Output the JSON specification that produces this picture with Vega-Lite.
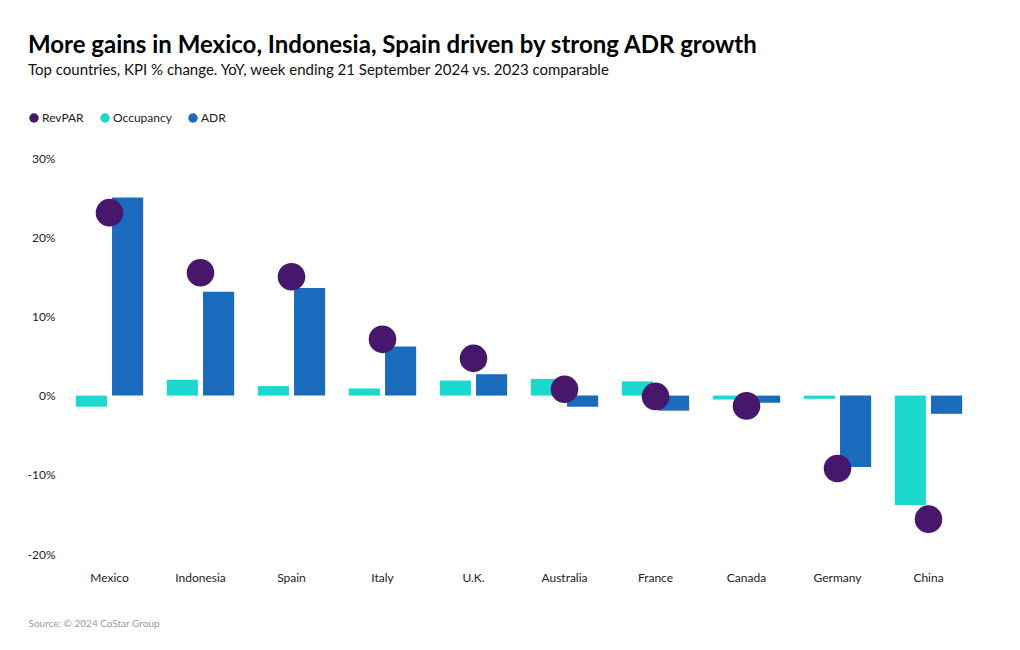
{
  "$schema": "https://vega.github.io/schema/vega-lite/v6.json",
  "width": 910,
  "height": 396,
  "autosize": {"type": "none"},
  "padding": {"left": 64, "top": 158, "right": 46, "bottom": 96},
  "background": "white",
  "config": {
    "view": {"stroke": null},
    "font": "Lato"
  },
  "title": {
    "text": "More gains in Mexico, Indonesia, Spain driven by strong ADR growth",
    "subtitle": "Top countries, KPI % change. YoY, week ending 21 September 2024 vs. 2023 comparable",
    "anchor": "start",
    "frame": "group",
    "dx": -36,
    "fontSize": 24,
    "fontWeight": "bold",
    "color": "#000000",
    "subtitleFontSize": 15,
    "subtitleColor": "#111111",
    "subtitlePadding": 5,
    "offset": 34
  },
  "data": {
    "values": [
      {"country": "Mexico", "metric": "Occupancy", "value": -1.4},
      {"country": "Mexico", "metric": "ADR", "value": 25.0},
      {"country": "Mexico", "metric": "RevPAR", "value": 23.1},
      {"country": "Indonesia", "metric": "Occupancy", "value": 2.0},
      {"country": "Indonesia", "metric": "ADR", "value": 13.1},
      {"country": "Indonesia", "metric": "RevPAR", "value": 15.5},
      {"country": "Spain", "metric": "Occupancy", "value": 1.2},
      {"country": "Spain", "metric": "ADR", "value": 13.6},
      {"country": "Spain", "metric": "RevPAR", "value": 15.0},
      {"country": "Italy", "metric": "Occupancy", "value": 0.9},
      {"country": "Italy", "metric": "ADR", "value": 6.2},
      {"country": "Italy", "metric": "RevPAR", "value": 7.1},
      {"country": "U.K.", "metric": "Occupancy", "value": 1.9},
      {"country": "U.K.", "metric": "ADR", "value": 2.7},
      {"country": "U.K.", "metric": "RevPAR", "value": 4.7},
      {"country": "Australia", "metric": "Occupancy", "value": 2.1},
      {"country": "Australia", "metric": "ADR", "value": -1.4},
      {"country": "Australia", "metric": "RevPAR", "value": 0.8},
      {"country": "France", "metric": "Occupancy", "value": 1.8},
      {"country": "France", "metric": "ADR", "value": -1.9},
      {"country": "France", "metric": "RevPAR", "value": -0.1},
      {"country": "Canada", "metric": "Occupancy", "value": -0.5},
      {"country": "Canada", "metric": "ADR", "value": -0.9},
      {"country": "Canada", "metric": "RevPAR", "value": -1.3},
      {"country": "Germany", "metric": "Occupancy", "value": -0.4},
      {"country": "Germany", "metric": "ADR", "value": -9.0},
      {"country": "Germany", "metric": "RevPAR", "value": -9.2},
      {"country": "China", "metric": "Occupancy", "value": -13.8},
      {"country": "China", "metric": "ADR", "value": -2.3},
      {"country": "China", "metric": "RevPAR", "value": -15.6}
    ]
  },
  "encoding": {
    "x": {
      "field": "country",
      "type": "nominal",
      "sort": ["Mexico", "Indonesia", "Spain", "Italy", "U.K.", "Australia", "France", "Canada", "Germany", "China"],
      "scale": {"paddingInner": 0.26, "paddingOuter": 0.13},
      "axis": {
        "labelAngle": 0,
        "labelFontSize": 12,
        "labelColor": "#222222",
        "labelPadding": 18,
        "domain": false,
        "ticks": false,
        "title": "Source: © 2024 CoStar Group",
        "titleFontSize": 10,
        "titleFontWeight": "normal",
        "titleColor": "#999999",
        "titleAnchor": "start",
        "titleAlign": "left",
        "titleX": -36,
        "titleY": 72,
        "titleBaseline": "alphabetic"
      }
    },
    "y": {
      "field": "value",
      "type": "quantitative",
      "scale": {"domain": [-20, 30], "nice": false},
      "axis": {
        "values": [-20, -10, 0, 10, 20, 30],
        "labelExpr": "datum.value + '%'",
        "labelFontSize": 12,
        "labelColor": "#222222",
        "labelPadding": 9,
        "domain": false,
        "ticks": false,
        "grid": false,
        "title": null
      }
    },
    "color": {
      "field": "metric",
      "type": "nominal",
      "scale": {"domain": ["RevPAR", "Occupancy", "ADR"], "range": ["#46176b", "#1bd9cf", "#1a6bbb"]},
      "legend": {
        "orient": "none",
        "legendX": -36,
        "legendY": -46,
        "direction": "horizontal",
        "title": null,
        "symbolType": "circle",
        "symbolSize": 90,
        "symbolOpacity": 1,
        "symbolStrokeWidth": 0,
        "labelFontSize": 12,
        "labelColor": "#222222",
        "labelOffset": 2,
        "columnPadding": 15
      }
    }
  },
  "layer": [
    {
      "transform": [{"filter": "datum.metric !== 'RevPAR'"}],
      "mark": {"type": "bar", "opacity": 1},
      "encoding": {
        "xOffset": {
          "field": "metric",
          "type": "nominal",
          "scale": {"domain": ["Occupancy", "ADR"], "paddingInner": 0.14}
        }
      }
    },
    {
      "transform": [{"filter": "datum.metric === 'RevPAR'"}],
      "mark": {"type": "point", "shape": "circle", "filled": true, "opacity": 1, "size": 760}
    }
  ]
}
